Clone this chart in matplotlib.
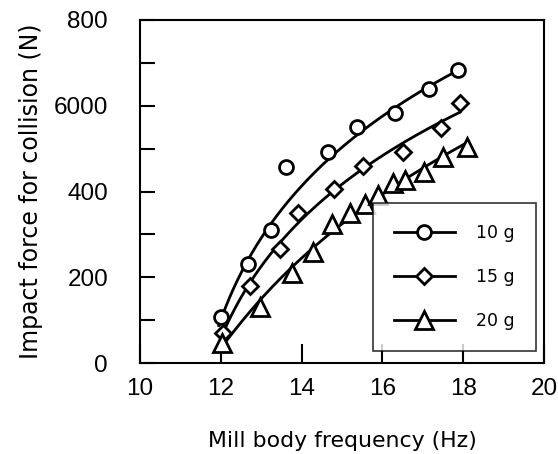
import matplotlib.pyplot as plt
import numpy as np

# Mill body frequency (Hz) and impact force (N) for three ball masses
f10 = [12.0, 12.68, 13.24, 13.61, 14.66, 15.38, 16.31, 17.16, 17.88]
F10 = [108, 232, 310, 458, 493, 551, 582, 639, 683]

f15 = [12.05, 12.72, 13.46, 13.92, 14.81, 15.53, 16.51, 17.45, 17.92]
F15 = [71, 180, 267, 351, 405, 459, 493, 547, 607]

f20 = [12.03, 12.97, 13.75, 14.27, 14.75, 15.21, 15.58, 15.89, 16.26, 16.55, 17.03, 17.49, 18.09]
F20 = [46, 131, 211, 260, 324, 349, 372, 392, 419, 427, 446, 481, 504]

labels = ['10 g', '15 g', '20 g']
markers = ['o', 'D', '^']
msizes = [10, 8.5, 13]

yticks = [0, 200, 400, 600, 800]
yticklabels = ['0', '200', '400', '6000', '800']  # typo kept from original figure
xticks = [10, 12, 14, 16, 18, 20]

fig = plt.figure(figsize=(5.58, 4.54), dpi=100)
ax = fig.add_axes([140/558, 1 - 363/454, 404/558, 343/454])

handles = []
for f, F, lab, m, ms in zip([f10, f15, f20], [F10, F15, F20], labels, markers, msizes):
    f = np.array(f)
    F = np.array(F)
    # trend line: quadratic in ln(f - 11); the obvious outlier gets little weight
    res = np.abs(F - np.polyval(np.polyfit(f, F, 2), f))
    w = np.where(res > 3 * np.median(res) + 20, 0.05, 1.0)
    c = np.polyfit(np.log(f - 11), F, 2, w=w)
    xx = np.linspace(f.min() - 0.05, f.max(), 200)
    ax.plot(xx, np.polyval(c, np.log(xx - 11)), color='black', lw=2)
    ax.plot(f, F, m, ms=ms, mfc='white', mec='black', mew=2, ls='none')
    h, = ax.plot([], [], color='black', lw=2, marker=m, ms=ms,
                 mfc='white', mec='black', mew=2)
    handles.append(h)

ax.set_xlim(10, 20)
ax.set_ylim(0, 800)
ax.set_xticks(xticks)
ax.set_xticklabels([str(t) for t in xticks], fontfamily='Liberation Sans', fontsize=17.5)
ax.set_yticks(yticks)
ax.set_yticks([100, 300, 500, 700], minor=True)
ax.set_yticklabels(yticklabels, fontfamily='Liberation Sans', fontsize=17.5)
ax.tick_params(axis='x', direction='in', length=14, width=1.5, pad=11)
ax.tick_params(axis='y', which='both', direction='in', length=11, width=1.5, pad=23)
for s in ax.spines.values():
    s.set_linewidth(1.5)

ax.set_xlabel('Mill body frequency (Hz)', fontsize=15.8, labelpad=22)
ax.set_ylabel('Impact force for collision (N)', fontsize=17, labelpad=8)

leg = ax.legend(handles, labels, loc='upper left',
                bbox_to_anchor=(0.577, 0.466, 0.403, 0.0), mode='expand',
                fontsize=12.5, frameon=True, fancybox=False, edgecolor='black',
                handlelength=3.5, handletextpad=1.2, labelspacing=1.5,
                borderpad=1.2, borderaxespad=0)
leg.get_frame().set_linewidth(1.2)

fig.savefig('out.png', dpi=100)
